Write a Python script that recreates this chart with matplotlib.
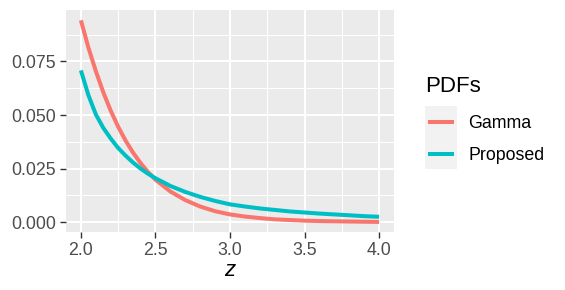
import matplotlib.pyplot as plt
from matplotlib.lines import Line2D
from matplotlib.patches import Rectangle

# values
z_vals = [2.00, 2.05, 2.10, 2.15, 2.20, 2.25, 2.30, 2.35, 2.40, 2.45, 2.50,
          2.60, 2.70, 2.80, 2.90, 3.00, 3.10, 3.20, 3.30, 3.40, 3.50,
          3.60, 3.70, 3.80, 3.90, 4.00]
gamma_pdf = [0.0942, 0.0815, 0.0705, 0.0606, 0.0520, 0.0445, 0.0380, 0.0324, 0.0276, 0.0234, 0.0198,
             0.0143, 0.0103, 0.0073, 0.0051, 0.0036, 0.0026, 0.0019, 0.0013, 0.0010, 0.0007,
             0.0005, 0.0004, 0.0003, 0.0002, 0.0001]
proposed_pdf = [0.0708, 0.0593, 0.0503, 0.0440, 0.0390, 0.0346, 0.0310, 0.0278, 0.0250, 0.0226, 0.0205,
                0.0169, 0.0141, 0.0118, 0.0099, 0.0083, 0.0073, 0.0064, 0.0057, 0.0050, 0.0045,
                0.0040, 0.0036, 0.0032, 0.0028, 0.0025]

series_names = ['Gamma', 'Proposed']
series_colors = ['#F8766D', '#00BFC4']
x_ticks = [2.0, 2.5, 3.0, 3.5, 4.0]
y_ticks = [0.0, 0.025, 0.05, 0.075]
y_labels = ['0.000', '0.025', '0.050', '0.075']

plt.rcParams['font.family'] = ['Liberation Sans', 'DejaVu Sans']

W, H = 565, 290
fig = plt.figure(figsize=(W / 100, H / 100), dpi=100)


def fx(px):
    return px / W


def fy(py):
    return 1 - py / H


# panel: 66..394 px horizontally, 10..232 px vertically
ax = fig.add_axes([fx(66), fy(232), fx(394 - 66), (232 - 10) / H])
ax.set_facecolor('#EBEBEB')
for s in ax.spines.values():
    s.set_visible(False)

for name, vals, col in zip(series_names, [gamma_pdf, proposed_pdf], series_colors):
    ax.plot(z_vals, vals, color=col, lw=2.9, solid_capstyle='butt', label=name, zorder=3)

ax.set_xlim(1.9, 4.1)
ax.set_ylim(-0.0046, 0.0990)
ax.set_xticks(x_ticks)
ax.set_xticklabels([f'{t:.1f}' for t in x_ticks])
ax.set_yticks(y_ticks)
ax.set_yticklabels(y_labels)
ax.set_xticks([2.25, 2.75, 3.25, 3.75], minor=True)
ax.set_yticks([0.0125, 0.0375, 0.0625, 0.0875], minor=True)

ax.grid(which='major', color='white', lw=1.5)
ax.grid(which='minor', color='white', lw=0.75)
ax.set_axisbelow(True)

ax.tick_params(which='major', length=4, width=1.0, color='#333333',
               labelcolor='#4D4D4D', labelsize=12.8, pad=3)
ax.tick_params(which='minor', length=0)

ax.set_xlabel('z', fontsize=16, style='italic', color='black', labelpad=1)

# legend drawn by hand to mimic ggplot2 guide
fig.text(fx(425), fy(91.7), 'PDFs', fontsize=16, color='black', va='baseline', ha='left')
fig.patches.append(Rectangle((fx(425), fy(169.3)), fx(32), (169.3 - 105.7) / H,
                             transform=fig.transFigure, facecolor='#F2F2F2', edgecolor='none'))
for i, (name, col) in enumerate(zip(series_names, series_colors)):
    yc = 121.7 + 32 * i
    fig.lines.append(Line2D([fx(428), fx(454)], [fy(yc), fy(yc)], transform=fig.transFigure,
                            color=col, lw=2.9, solid_capstyle='butt'))
    fig.text(fx(468), fy(yc), name, fontsize=12.8, color='black', va='center_baseline', ha='left')

fig.savefig('out.png', dpi=100)
